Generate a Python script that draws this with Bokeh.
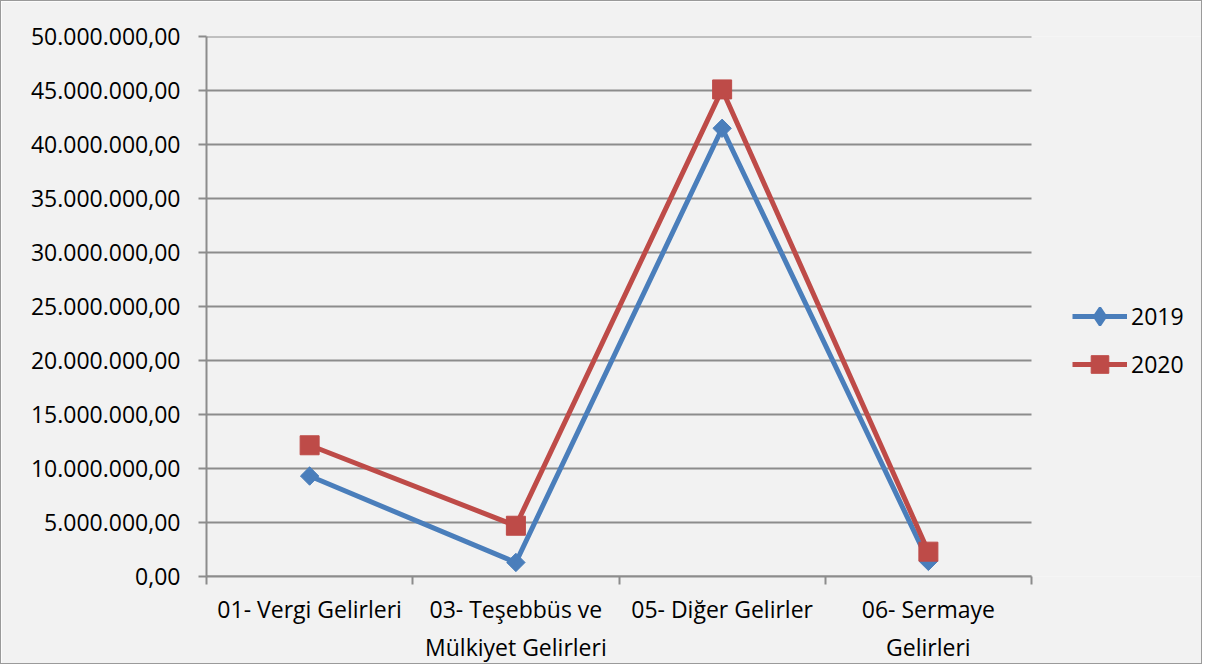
import math
from bokeh.plotting import figure
from bokeh.models import (ColumnDataSource, FixedTicker, CustomJSTickFormatter,
                          Range1d, Legend, LegendItem)
from bokeh.embed import file_html
from bokeh.resources import INLINE

categories = ["01- Vergi Gelirleri", "03- Teşebbüs ve\nMülkiyet Gelirleri",
              "05- Diğer Gelirler", "06- Sermaye\nGelirleri"]
values_2019 = [9300000, 1300000, 41500000, 1400000]
values_2020 = [12150000, 4700000, 45100000, 2300000]
y_ticks = [0, 5000000, 10000000, 15000000, 20000000, 25000000,
           30000000, 35000000, 40000000, 45000000, 50000000]

FONT = "Open Sans"
BLUE = "#4a7ebb"
RED = "#be4b48"
GRID = "#8c8c8c"

W, H = 1202, 664
LEFT, TOP, BOTTOM = 205, 35, 86
PLOT_W = 825                       # pixel width of the category area
n = len(categories)
frame_w = W - LEFT
x_end = n * frame_w / PLOT_W       # extra room on the right for the legend

xpos = [i + 0.5 for i in range(n)]
src = ColumnDataSource(dict(x=xpos, y19=values_2019, y20=values_2020))
grid_src = ColumnDataSource(dict(x0=[0] * len(y_ticks), x1=[n] * len(y_ticks), y=y_ticks))

p = figure(width=W, height=H, output_backend="svg", toolbar_location=None,
           x_range=Range1d(0, x_end), y_range=Range1d(0, 50000000),
           min_border_left=LEFT, min_border_right=0, min_border_top=TOP,
           min_border_bottom=BOTTOM)
p.background_fill_color = "#f2f2f2"
p.border_fill_color = "#f2f2f2"
p.outline_line_color = None
p.styles = {"border": "1px solid #9a9a9a"}

p.xgrid.grid_line_color = None
p.ygrid.grid_line_color = None
p.segment(x0="x0", x1="x1", y0="y", y1="y", source=grid_src,
          line_color=GRID, line_width=2)

# y axis
p.yaxis.ticker = FixedTicker(ticks=y_ticks)
p.yaxis.formatter = CustomJSTickFormatter(code="""
    const s = Math.round(tick).toString().replace(/\\B(?=(\\d{3})+(?!\\d))/g, '.');
    return s + ',00';
""")
p.yaxis.axis_line_color = GRID
p.yaxis.axis_line_width = 2
p.yaxis.major_tick_line_color = GRID
p.yaxis.major_tick_line_width = 2
p.yaxis.major_tick_out = 8
p.yaxis.major_tick_in = 0
p.yaxis.minor_tick_line_color = None
p.yaxis.major_label_text_font = FONT
p.yaxis.major_label_text_font_size = "23px"
p.yaxis.major_label_text_color = "#000000"
p.yaxis.major_label_standoff = 18

# x axis
p.xaxis.bounds = (0, n)
p.xaxis.ticker = FixedTicker(ticks=xpos, minor_ticks=list(range(n + 1)))
p.xaxis.major_label_overrides = {x: c for x, c in zip(xpos, categories)}
p.xaxis.axis_line_color = GRID
p.xaxis.axis_line_width = 2
p.xaxis.major_tick_line_color = None
p.xaxis.minor_tick_line_color = GRID
p.xaxis.minor_tick_line_width = 2
p.xaxis.minor_tick_out = 8
p.xaxis.minor_tick_in = 0
p.xaxis.major_label_text_font = FONT
p.xaxis.major_label_text_font_size = "23px"
p.xaxis.major_label_text_color = "#000000"
p.xaxis.major_label_standoff = 8

l19 = p.line("x", "y19", source=src, line_color=BLUE, line_width=5)
m19 = p.scatter("x", "y19", source=src, marker="square", size=13, angle=math.pi / 4,
                fill_color=BLUE, line_color=BLUE)
# small diamond (hidden under the rotated square) – gives the legend its diamond glyph
d19 = p.scatter("x", "y19", source=src, marker="diamond", size=2,
                fill_color=BLUE, line_color=BLUE, line_width=2.5)
l20 = p.line("x", "y20", source=src, line_color=RED, line_width=5)
m20 = p.scatter("x", "y20", source=src, marker="square", size=19,
                fill_color=RED, line_color=RED)

legend = Legend(items=[LegendItem(label="2019", renderers=[l19, d19]),
                       LegendItem(label="2020", renderers=[l20, m20])],
                location=(866, 190))
legend.background_fill_alpha = 0
legend.border_line_color = None
legend.padding = 0
legend.margin = 0
legend.spacing = 4
legend.glyph_width = 55
legend.glyph_height = 44
legend.label_standoff = 4
legend.label_text_font = FONT
legend.label_text_font_size = "23px"
legend.label_text_color = "#000000"
p.add_layout(legend, "center")

open("out.html", "w").write(file_html(p, INLINE))
